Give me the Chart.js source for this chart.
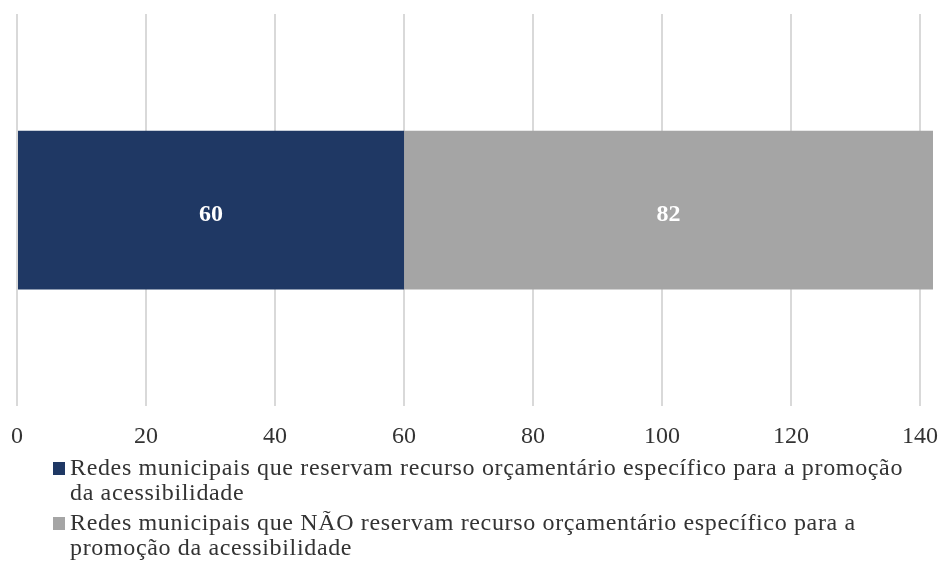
<!DOCTYPE html>
<html>
<head>
<meta charset="utf-8">
<script src="https://cdn.jsdelivr.net/npm/chart.js@4.4.0/dist/chart.umd.min.js"></script>
<style>
    body { margin: 0; background: #fff; }
    #wrap { position: relative; width: 943px; height: 565px; }
    #legend {
        position: absolute; left: 53px; top: 455px;
        font-family: "Liberation Serif", "Times New Roman", serif;
        font-size: 24px; line-height: 25px; letter-spacing: 0.65px; color: #333;
        white-space: nowrap;
    }
    .item { display: flex; align-items: flex-start; margin-bottom: 5px; }
    .box { width: 12px; height: 13px; margin-top: 7px; margin-right: 5px; flex: none; }
</style>
</head>
<body>
<div id="wrap">
    <canvas id="chart" width="943" height="565"></canvas>
    <div id="legend"></div>
</div>
<script>
// Data
var categories = [''];
var seriesNames = [
    ['Redes municipais que reservam recurso orçamentário específico para a promoção', 'da acessibilidade'],
    ['Redes municipais que NÃO reservam recurso orçamentário específico para a', 'promoção da acessibilidade']
];
var reservam = [60];
var naoReservam = [82];
var tickValues = [0, 20, 40, 60, 80, 100, 120, 140];
var colors = ['#1f3864', '#a5a5a5'];

// Value labels inside the bars
var barLabels = {
    id: 'barLabels',
    afterDatasetsDraw(chart) {
        var ctx = chart.ctx;
        ctx.save();
        ctx.font = 'bold 24px "Liberation Serif", serif';
        ctx.fillStyle = '#ffffff';
        ctx.textAlign = 'center';
        ctx.textBaseline = 'middle';
        chart.data.datasets.forEach(function(ds, i) {
            chart.getDatasetMeta(i).data.forEach(function(bar, j) {
                var p = bar.getProps(['x', 'y', 'base'], true);
                ctx.fillText(ds.data[j], (p.x + p.base) / 2, p.y + 5);
            });
        });
        ctx.restore();
    }
};

var ctx = document.getElementById('chart').getContext('2d');
var chart = new Chart(ctx, {
    type: 'bar',
    data: {
        labels: categories,
        datasets: [
            { label: seriesNames[0].join(' '), data: reservam, backgroundColor: colors[0] },
            { label: seriesNames[1].join(' '), data: naoReservam, backgroundColor: colors[1] }
        ]
    },
    options: {
        indexAxis: 'y',
        responsive: false,
        animation: false,
        layout: { padding: { top: 14, left: 17, right: 10, bottom: 98 } },
        datasets: { bar: { barPercentage: 0.405, categoryPercentage: 1 } },
        scales: {
            x: {
                stacked: true,
                min: 0,
                max: 142,
                border: { display: false },
                grid: { color: '#d9d9d9', lineWidth: 2, drawTicks: false },
                afterBuildTicks: function(axis) {
                    axis.ticks = tickValues.map(function(v) { return { value: v }; });
                },
                afterFit: function(axis) {
                    axis.paddingLeft = 0;
                    axis.paddingRight = 0;
                },
                ticks: {
                    padding: 16,
                    maxRotation: 0,
                    color: '#333',
                    font: { family: '"Liberation Serif", serif', size: 24 }
                }
            },
            y: {
                stacked: true,
                display: false
            }
        },
        plugins: {
            legend: { display: false },
            tooltip: { enabled: false }
        }
    },
    plugins: [barLabels]
});

// Legend (line breaks as in the original)
var legend = document.getElementById('legend');
seriesNames.forEach(function(lines, i) {
    var item = document.createElement('div');
    item.className = 'item';
    item.innerHTML = '<span class="box" style="background:' + colors[i] + '"></span><span>' + lines.join('<br>') + '</span>';
    legend.appendChild(item);
});
</script>
</body>
</html>
